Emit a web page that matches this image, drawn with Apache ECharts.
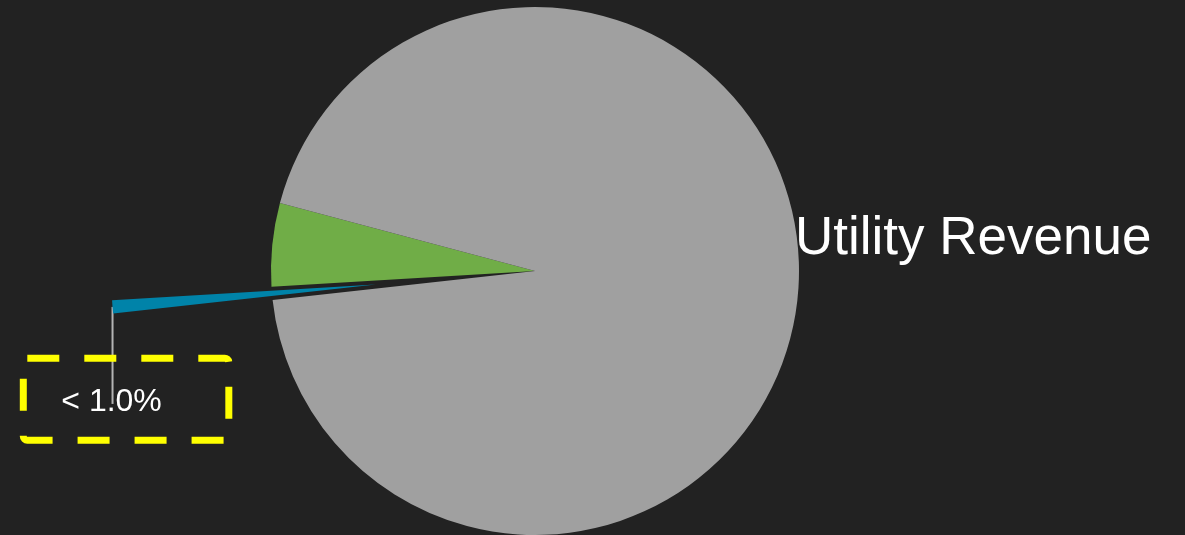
<!DOCTYPE html>
<html>
<head>
<meta charset="utf-8">
<script src="https://cdn.jsdelivr.net/npm/echarts@6/dist/echarts.min.js"></script>
<style>
html, body { margin: 0; padding: 0; background: #222222; }
#chart { width: 1185px; height: 535px; }
</style>
</head>
<body>
<div id="chart"></div>
<script>
const categories = ['Other Revenue', 'Grant Revenue', 'Utility Revenue'];
const values = [0.8, 5.1, 94.1];
const labelTexts = ['< 1.0%', '', 'Utility Revenue'];
const colors = ['#0083a9', '#70ad47', '#a0a0a0'];

const FONT = "'Liberation Sans', Arial, Helvetica, sans-serif";

const data = categories.map((name, i) => {
  const item = { name: name, value: values[i], itemStyle: { color: colors[i] } };
  if (i === 0) {
    item.selected = true;
    item.label = {
      show: true,
      color: '#ffffff',
      fontSize: 32,
      fontFamily: FONT,
      padding: [183, 0, 0, 77],
      rich: {
        box: {
          color: '#ffffff',
          fontSize: 32,
          fontFamily: FONT,
          borderColor: '#ffff00',
          borderWidth: 7,
          borderType: [32, 25],
          borderRadius: 4,
          padding: [28, 67, 22, 38]
        }
      }
    };
    item.labelLine = { show: true, lineStyle: { color: '#b4b4b4', width: 2 } };
  } else if (i === 1) {
    item.label = { show: false };
    item.labelLine = { show: false };
  } else {
    item.label = { show: true, color: '#ffffff', fontSize: 53, fontFamily: FONT };
    item.labelLine = { show: false };
  }
  return item;
});

const chart = echarts.init(document.getElementById('chart'), null, { renderer: 'canvas' });
chart.setOption({
  backgroundColor: '#222222',
  animation: false,
  series: [{
    type: 'pie',
    center: [535, 271],
    radius: 264,
    startAngle: 186.3,
    clockwise: true,
    selectedMode: 'single',
    selectedOffset: 160,
    avoidLabelOverlap: false,
    emphasis: { disabled: true },
    label: {
      position: 'outside',
      formatter: (p) => p.dataIndex === 0 ? '{box|' + labelTexts[0] + '}' : labelTexts[p.dataIndex]
    },
    labelLine: { length: 10, length2: 10 },
    labelLayout: function (params) {
      const i = params.dataIndex;
      if (i === 0 && params.labelLinePoints) {
        const p0 = params.labelLinePoints[0];
        return {
          align: 'center',
          verticalAlign: 'middle',
          labelLinePoints: [p0, [p0[0], p0[1] + 97]]
        };
      }
      if (i === 2) {
        const r = params.rect;
        return {
          x: r.x + r.width - 4,
          y: r.y + r.height / 2 - 32,
          align: 'left',
          verticalAlign: 'middle'
        };
      }
      return {};
    },
    data: data
  }]
});
</script>
</body>
</html>
